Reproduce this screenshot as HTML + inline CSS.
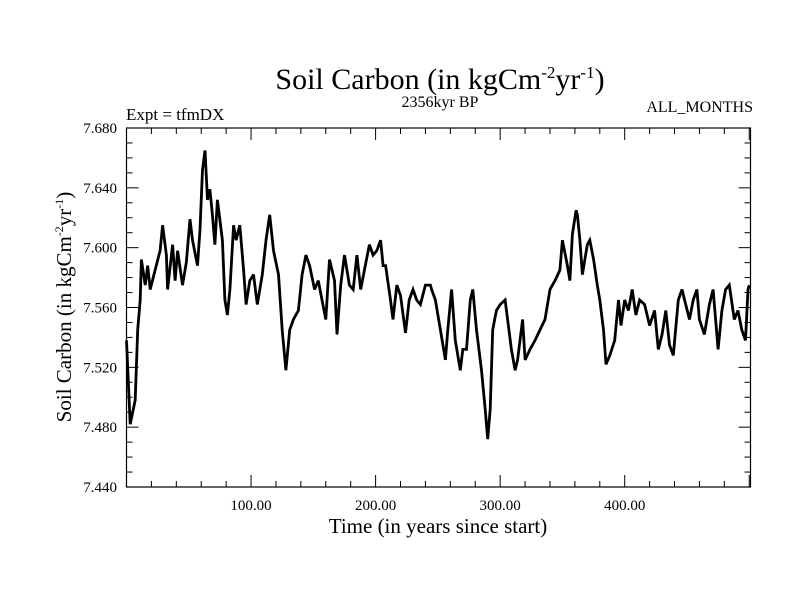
<!DOCTYPE html>
<html><head><meta charset="utf-8"><style>
body{margin:0;background:#fff}
svg{display:block;font-family:"Liberation Serif",serif}
</style></head><body>
<svg id="chart" width="800" height="600" viewBox="0 0 800 600">
<rect width="800" height="600" fill="#fff"/>
<text x="440" y="89" font-size="30" text-anchor="middle">Soil Carbon (in kgCm<tspan font-size="17" dy="-11">-2</tspan><tspan dy="11">yr</tspan><tspan font-size="17" dy="-11">-1</tspan><tspan dy="11">)</tspan></text>
<text x="440" y="107" font-size="16" text-anchor="middle">2356kyr BP</text>
<text x="126" y="120" font-size="17">Expt = tfmDX</text>
<text x="753" y="112" font-size="16" text-anchor="end">ALL_MONTHS</text>
<text x="438" y="533" font-size="21" text-anchor="middle">Time (in years since start)</text>
<text transform="translate(71,307) rotate(-90)" font-size="21" text-anchor="middle">Soil Carbon (in kgCm<tspan font-size="12" dy="-8">-2</tspan><tspan dy="8">yr</tspan><tspan font-size="12" dy="-8">-1</tspan><tspan dy="8">)</tspan></text>
<g id="axes"></g>
<g id="series"></g>
<rect x="126.5" y="128" width="624" height="359" fill="none" stroke="#000" stroke-width="1.2"/>
</svg>
<script>
const years=[0,3,7,9,11,12,15,17,19,23,27,29,32,33,37,39,41,45,48,51,53,57,59,61,63,65,67,69,71,73,77,79,81,83,86,88,91,94,96,99,102,105,109,112,115,118,122,125,128,131,134,138,141,144,147,151,154,157,160,163,167,169,172,175,179,182,185,188,191,195,198,201,204,206,208,212,214,217,220,224,227,230,233,236,240,244,245,248,252,256,258,261,264,268,270,273,276,278,281,285,288,290,292,294,297,300,304,306,309,312,314,318,320,324,328,332,336,340,344,348,350,354,356,358,361,362,364,366,370,372,375,378,380,383,385,388,392,395,397,400,403,406,409,412,416,420,424,427,430,433,436,439,443,446,449,452,455,458,460,464,468,471,475,478,481,484,488,491,494,497,499,500];
const values=[7.538,7.482,7.498,7.545,7.565,7.592,7.575,7.588,7.572,7.585,7.598,7.615,7.595,7.572,7.602,7.578,7.598,7.575,7.590,7.619,7.605,7.588,7.612,7.652,7.665,7.632,7.639,7.622,7.602,7.632,7.605,7.565,7.555,7.572,7.615,7.605,7.615,7.585,7.562,7.578,7.582,7.562,7.582,7.605,7.622,7.598,7.582,7.545,7.518,7.545,7.552,7.558,7.582,7.595,7.588,7.572,7.578,7.565,7.552,7.592,7.578,7.542,7.575,7.595,7.575,7.572,7.595,7.572,7.585,7.602,7.595,7.598,7.605,7.588,7.588,7.565,7.552,7.575,7.568,7.543,7.565,7.572,7.565,7.562,7.575,7.575,7.572,7.565,7.545,7.525,7.545,7.572,7.538,7.518,7.532,7.532,7.565,7.572,7.545,7.518,7.492,7.472,7.492,7.545,7.558,7.562,7.565,7.552,7.532,7.518,7.525,7.552,7.525,7.532,7.538,7.545,7.552,7.572,7.578,7.585,7.605,7.588,7.578,7.609,7.625,7.622,7.605,7.582,7.602,7.605,7.592,7.575,7.565,7.545,7.522,7.528,7.538,7.565,7.548,7.565,7.558,7.572,7.555,7.565,7.562,7.548,7.558,7.532,7.542,7.558,7.535,7.528,7.565,7.572,7.562,7.552,7.565,7.572,7.552,7.542,7.562,7.572,7.532,7.558,7.572,7.575,7.552,7.558,7.545,7.538,7.572,7.575];
const yTicks=[7.440,7.480,7.520,7.560,7.600,7.640,7.680];
const xTicks=[100,200,300,400];
const X0=126.5,X1=750.5,Y0=487,Y1=128,xMin=0,xMax=501,yMin=7.44,yMax=7.68;
function sx(v){return X0+(v-xMin)/(xMax-xMin)*(X1-X0);}
function sy(v){return Y0-(v-yMin)/(yMax-yMin)*(Y0-Y1);}
const NS="http://www.w3.org/2000/svg";
const axes=document.getElementById('axes');
function mk(tag,attrs,parent){const e=document.createElementNS(NS,tag);for(const k in attrs)e.setAttribute(k,attrs[k]);parent.appendChild(e);return e;}
for(let v=yMin;v<=yMax+1e-9;v+=0.01){
  const y=sy(v);const major=Math.abs(Math.round(v*100)%4)===0;const len=major?12:6;
  const t1=mk('line',{x1:X0,x2:X0+len,y1:y,y2:y,stroke:'#000','stroke-width':1},axes);
  
  
  const t2=mk('line',{x1:X1,x2:X1-len,y1:y,y2:y,stroke:'#000','stroke-width':1},axes);
  
  
}
yTicks.forEach(v=>{
  const t=mk('text',{x:117,y:sy(v)+5,'font-size':15,'text-anchor':'end'},axes);
  t.textContent=v.toFixed(3);
  
  
});
for(let v=20;v<xMax;v+=20){
  const x=sx(v);const major=v%100===0;const len=major?12:6;
  const t1=mk('line',{x1:x,x2:x,y1:Y0,y2:Y0-len,stroke:'#000','stroke-width':1},axes);
  
  
  const t2=mk('line',{x1:x,x2:x,y1:Y1,y2:Y1+len,stroke:'#000','stroke-width':1},axes);
  
  
}
xTicks.forEach(v=>{
  const t=mk('text',{x:sx(v),y:510,'font-size':15,'text-anchor':'middle'},axes);
  t.textContent=v.toFixed(2);
  
  
});
const d=years.map((yr,i)=>(i?'L':'M')+sx(yr).toFixed(1)+','+sy(values[i]).toFixed(1)).join('');
const p=mk('path',{d:d,fill:'none',stroke:'#000','stroke-width':2.8,'stroke-linejoin':'miter','stroke-miterlimit':3},document.getElementById('series'));


</script>
</body></html>
